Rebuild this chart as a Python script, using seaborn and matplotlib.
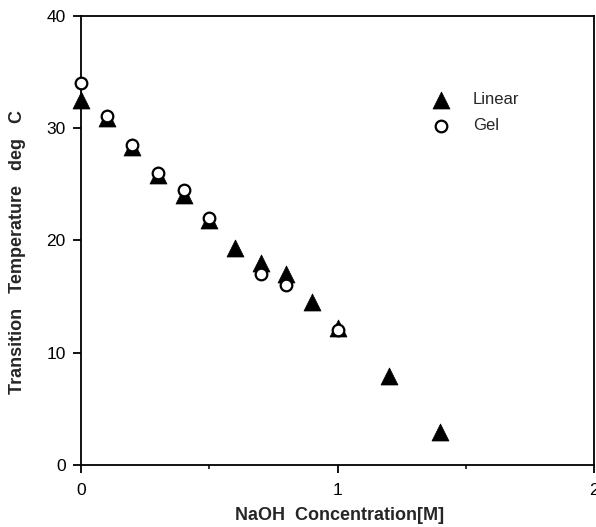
import matplotlib
matplotlib.use("Agg")
import matplotlib.pyplot as plt
import seaborn as sns
import pandas as pd
from matplotlib.ticker import MultipleLocator

# NaOH concentration (M) and transition temperature (deg C)
linear_conc = [0.0, 0.1, 0.2, 0.3, 0.4, 0.5, 0.6, 0.7, 0.8, 0.9, 1.0, 1.2, 1.4]
linear_temp = [32.5, 30.9, 28.3, 25.8, 24.0, 21.8, 19.3, 18.0, 17.0, 14.5, 12.2, 7.9, 2.9]

gel_conc = [0.0, 0.1, 0.2, 0.3, 0.4, 0.5, 0.7, 0.8, 1.0]
gel_temp = [34.0, 31.1, 28.5, 26.0, 24.5, 22.0, 17.0, 16.0, 12.0]

x_ticks = [0, 1, 2]
y_ticks = [0, 10, 20, 30, 40]

sns.set_style("ticks")
plt.rcParams["font.family"] = ["Liberation Sans", "DejaVu Sans"]

linear_df = pd.DataFrame({"conc": linear_conc, "temp": linear_temp})
gel_df = pd.DataFrame({"conc": gel_conc, "temp": gel_temp})

fig = plt.figure(figsize=(5.96, 5.27), dpi=100)
ax = fig.add_axes([0.136, 0.118, 0.861, 0.852])

sns.scatterplot(data=linear_df, x="conc", y="temp", marker="^", s=150,
                color="black", edgecolor="black", linewidth=0.5,
                label="Linear", ax=ax, zorder=3, clip_on=False)
sns.scatterplot(data=gel_df, x="conc", y="temp", marker="o", s=70,
                facecolor="white", edgecolor="black", linewidth=1.6,
                label="Gel", ax=ax, zorder=4, clip_on=False)

ax.set_xlim(0, 2)
ax.set_ylim(0, 40)
ax.set_xticks(x_ticks)
ax.set_yticks(y_ticks)
ax.xaxis.set_minor_locator(MultipleLocator(0.5))
ax.tick_params(axis="both", which="major", direction="out", length=6, width=1.3,
               labelsize=12.5, colors="black")
ax.tick_params(axis="x", which="major", pad=7)
ax.tick_params(axis="y", which="major", pad=5)
ax.tick_params(axis="x", which="minor", direction="out", length=3, width=1.3)

for side in ["left", "right", "top", "bottom"]:
    ax.spines[side].set_visible(True)
    ax.spines[side].set_linewidth(1.3)
    ax.spines[side].set_color("black")

ax.set_xlabel("NaOH  Concentration[M]", fontsize=13, fontweight="bold")
ax.xaxis.set_label_coords(0.503, -0.094)
ax.set_ylabel("Transition   Temperature   deg   C", fontsize=13, fontweight="bold")
ax.yaxis.set_label_coords(-0.108, 0.474)

leg = ax.legend(loc="upper left", bbox_to_anchor=(0.655, 0.845), frameon=False,
                fontsize=12, handletextpad=0.95, labelspacing=0.65, borderaxespad=0)

fig.savefig("out.png", dpi=100)
